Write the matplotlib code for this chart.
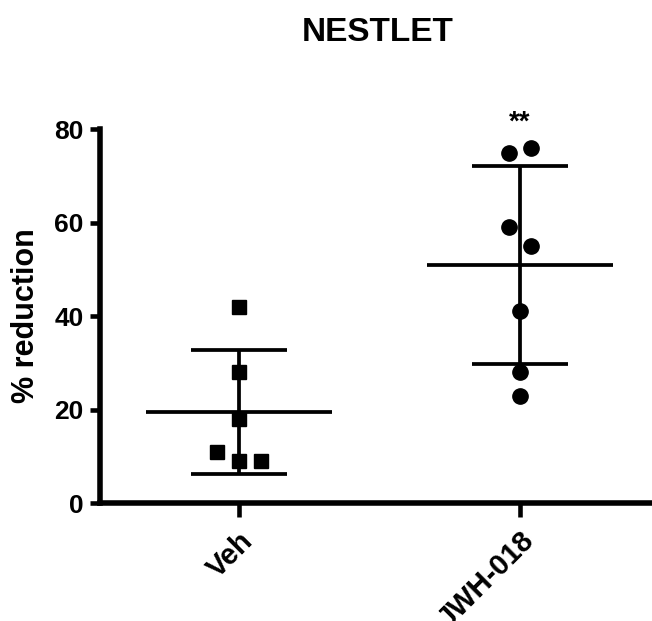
import numpy as np
import matplotlib
matplotlib.use("Agg")
import matplotlib.pyplot as plt

plt.rcParams['font.family'] = ['Liberation Sans', 'DejaVu Sans']
plt.rcParams['font.weight'] = 'bold'

# Data
groups = ['Veh', 'JWH-018']
veh_values = [42, 28, 18, 11, 9, 9]
jwh_values = [75, 76, 59, 55, 41, 28, 23]

# horizontal scatter of points (layout only)
veh_offsets = [0.0, 0.0, 0.0, -0.078, 0.0, 0.078]
jwh_offsets = [-0.04, 0.04, -0.04, 0.04, 0.0, 0.0, 0.0]

fig = plt.figure(figsize=(6.52, 6.21), dpi=100)
ax = fig.add_axes([0.153, 0.19, 0.847, 0.602])

series = [(veh_values, veh_offsets, 's', 10),
          (jwh_values, jwh_offsets, 'o', 11)]

for i, (vals, offs, marker, ms) in enumerate(series):
    vals = np.array(vals, dtype=float)
    mean = vals.mean()
    sd = vals.std(ddof=1)
    # mean line and SD whiskers
    ax.hlines(mean, i - 0.33, i + 0.33, color='black', lw=2.7, zorder=2)
    ax.hlines([mean - sd, mean + sd], i - 0.17, i + 0.17, color='black', lw=2.7, zorder=2)
    ax.vlines(i, mean - sd, mean + sd, color='black', lw=2.7, zorder=2)
    ax.plot(i + np.array(offs), vals, linestyle='none', marker=marker,
            markersize=ms, color='black', zorder=3, clip_on=False)

# significance marker
ax.text(1, 78.6, '**', ha='center', va='bottom', fontsize=20, fontweight='bold')

ax.set_xlim(-0.495, 1.47)
ax.set_ylim(0, 80)
ax.set_yticks([0, 20, 40, 60, 80])
ax.set_xticks([0, 1])
ax.set_xticklabels(groups, rotation=45, ha='right', rotation_mode='anchor')

for side in ['top', 'right']:
    ax.spines[side].set_visible(False)
for side in ['left', 'bottom']:
    ax.spines[side].set_linewidth(4)

ax.tick_params(axis='y', length=7.5, width=3.3, labelsize=19, pad=4)
ax.tick_params(axis='x', length=10, width=3.3, labelsize=21, pad=7)
for lab in ax.get_xticklabels() + ax.get_yticklabels():
    lab.set_fontweight('bold')

ax.set_ylabel('% reduction', fontsize=22, fontweight='bold', labelpad=10)
fig.text(0.58, 0.948, 'NESTLET', ha='center', va='center', fontsize=24, fontweight='bold')

fig.savefig('out.png', dpi=100)
